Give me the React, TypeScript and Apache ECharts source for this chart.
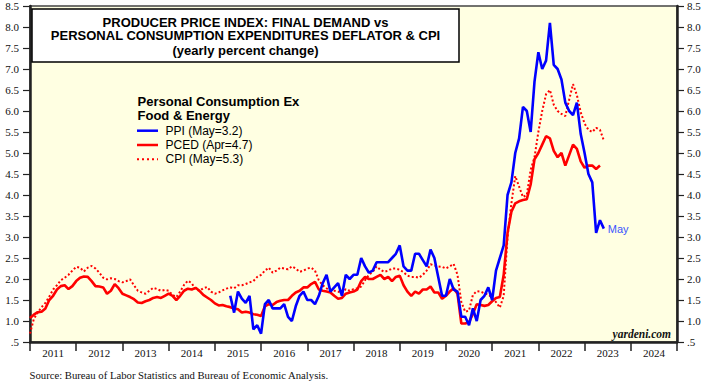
import React, { useEffect, useRef } from "react";
import * as echarts from "echarts";

// ---- Data (yearly percent change, monthly) ----
const years = ["2011", "2012", "2013", "2014", "2015", "2016", "2017", "2018", "2019", "2020", "2021", "2022", "2023", "2024"];
const yTicks = [0.5, 1.0, 1.5, 2.0, 2.5, 3.0, 3.5, 4.0, 4.5, 5.0, 5.5, 6.0, 6.5, 7.0, 7.5, 8.0, 8.5];

// PCE deflator ex food & energy, from Dec 2010
const pcedStart = "2010-12";
const pced = [
  1.07, 1.15, 1.21, 1.22, 1.3, 1.5, 1.6, 1.75, 1.83, 1.85, 1.76, 1.83,
  1.95, 2.03, 2.06, 2.05, 1.95, 1.83, 1.82, 1.8, 1.65, 1.72, 1.88, 1.78,
  1.65, 1.61, 1.57, 1.52, 1.44, 1.43, 1.47, 1.5, 1.55, 1.57, 1.55, 1.6,
  1.65, 1.6, 1.5, 1.6, 1.72, 1.77, 1.75, 1.79, 1.72, 1.62, 1.56, 1.5,
  1.42, 1.37, 1.38, 1.35, 1.33, 1.3, 1.28, 1.2, 1.22, 1.2, 1.16, 1.15,
  1.12, 1.35, 1.4, 1.38, 1.45, 1.48, 1.5, 1.5, 1.6, 1.68, 1.72, 1.8,
  1.8, 1.88, 1.93, 1.75, 1.72, 1.7, 1.68, 1.6, 1.53, 1.55, 1.65, 1.68,
  1.7, 1.75, 1.95, 2.05, 2.0, 2.0, 2.05, 2.1, 2.0, 2.05, 1.95, 2.05,
  2.08, 1.85, 1.7, 1.6, 1.7, 1.65, 1.75, 1.75, 1.82, 1.68, 1.68, 1.53,
  1.6, 1.7, 1.78, 1.65, 0.94, 0.94, 0.97, 1.17, 1.4, 1.38, 1.36, 1.38,
  1.47, 1.55, 1.57, 2.1, 3.1, 3.6, 3.8, 3.85, 3.88, 3.9, 4.25, 4.85,
  5.0, 5.2, 5.4, 5.35, 5.05, 4.9, 5.0, 4.7, 4.95, 5.2, 5.1, 4.8,
  4.65, 4.7, 4.7, 4.62, 4.7,
];

// CPI ex food & energy, from Dec 2010
const cpiStart = "2010-12";
const cpi = [
  0.7, 1.05, 1.2, 1.33, 1.43, 1.58, 1.75, 1.85, 1.97, 2.03, 2.1, 2.2,
  2.29, 2.27, 2.18, 2.27, 2.31, 2.25, 2.15, 2.03, 1.99, 2.02, 2.0, 1.95,
  1.92, 1.95, 1.99, 1.85, 1.72, 1.68, 1.65, 1.72, 1.79, 1.76, 1.72, 1.74,
  1.72, 1.62, 1.57, 1.7, 1.86, 1.96, 1.9, 1.75, 1.72, 1.78, 1.81, 1.7,
  1.65, 1.68, 1.73, 1.77, 1.8, 1.78, 1.85, 1.85, 1.88, 1.92, 1.95, 2.05,
  2.1, 2.2, 2.27, 2.15, 2.2, 2.27, 2.25, 2.23, 2.3, 2.25, 2.17, 2.2,
  2.25, 2.27, 2.2, 1.97, 1.85, 1.78, 1.72, 1.72, 1.7, 1.66, 1.76, 1.72,
  1.76, 1.78, 1.82, 1.97, 2.1, 2.17, 2.3, 2.22, 2.17, 2.2, 2.25, 2.25,
  2.22, 2.16, 2.08, 2.05, 2.05, 2.03, 2.1, 2.2, 2.35, 2.32, 2.3, 2.29,
  2.25, 2.3, 2.36, 2.1, 1.45, 1.22, 1.25, 1.62, 1.71, 1.7, 1.66, 1.63,
  1.55, 1.45, 1.32, 1.6, 3.0, 3.8, 4.45, 4.2, 3.95, 4.0, 4.6, 4.9,
  5.5, 6.0, 6.4, 6.5, 6.15, 6.0, 5.93, 5.88, 6.27, 6.64, 6.38, 5.97,
  5.7, 5.55, 5.5, 5.6, 5.55, 5.3,
];

// PPI final demand ex food & energy, from Apr 2015
const ppiStart = "2015-04";
const ppi = [
  1.6, 1.2, 1.7, 1.53, 1.43, 1.6, 0.8, 0.9, 0.7, 1.4, 1.5, 1.3,
  1.3, 1.3, 1.4, 1.1, 1.0, 1.35, 1.6, 1.7, 1.5, 1.5, 1.4, 1.6,
  1.9, 2.1, 1.7, 1.8, 1.9, 1.6, 2.1, 2.0, 2.1, 2.1, 2.5, 2.3,
  2.15, 2.2, 2.4, 2.4, 2.4, 2.4, 2.5, 2.6, 2.8, 2.3, 2.2, 2.2,
  2.6, 2.6, 2.45, 2.3, 2.7, 2.5, 2.05, 1.6, 1.6, 2.0, 1.75, 1.7,
  1.1, 1.1, 0.9, 1.3, 1.0, 1.5, 1.6, 1.8, 1.5, 2.2, 2.5, 2.8,
  4.0, 4.3, 5.0, 5.35, 6.1, 6.0, 5.5, 6.7, 7.4, 7.0, 7.2, 8.1,
  7.1, 7.0, 6.75, 6.2, 6.0, 5.9, 6.2, 5.45, 5.0, 4.5, 4.3, 3.1,
  3.4, 3.2,
];

const titleLines = [
  "PRODUCER PRICE INDEX: FINAL DEMAND vs",
  "PERSONAL CONSUMPTION EXPENDITURES DEFLATOR & CPI",
  "(yearly percent change)",
];
const legendTitle = ["Personal Consumption Ex", "Food & Energy"];
const legendItems = ["PPI (May=3.2)", "PCED (Apr=4.7)", "CPI (May=5.3)"];
const sourceText = "Source: Bureau of Labor Statistics and Bureau of Economic Analysis.";

// month-end position on a continuous year scale
function toSeries(start: string, values: number[]) {
  const [y, m] = start.split("-").map(Number);
  return values.map((v, i) => [y + (m + i) / 12, v]);
}

const SANS = "'Liberation Sans', Arial, sans-serif";
const SERIF = "'Liberation Serif', 'Times New Roman', serif";
const BLUE = "#0000ff";
const RED = "#ff0000";

export default function App() {
  const ref = useRef<HTMLDivElement>(null);

  useEffect(() => {
    if (!ref.current) return;
    const chart = echarts.init(ref.current, null, { renderer: "svg" });

    const yLabel = (v: number) => (v === 0.5 ? ".5" : v.toFixed(1));
    const yAxisCommon = {
      type: "value" as const,
      min: yTicks[0],
      max: yTicks[yTicks.length - 1],
      interval: 0.5,
      axisLine: { show: true, lineStyle: { color: "#222", width: 2.5 } },
      axisTick: { show: true, inside: false, length: 7, lineStyle: { color: "#222", width: 1.2 } },
      splitLine: { show: false },
      axisLabel: { formatter: yLabel, fontFamily: SERIF, fontSize: 11, color: "#111" },
    };

    const legendY = [130.7, 145, 159.3];
    const legendStyles = [
      { stroke: BLUE, lineWidth: 2.5, lineDash: null as any },
      { stroke: RED, lineWidth: 2.5, lineDash: null as any },
      { stroke: RED, lineWidth: 2, lineDash: [2, 3] },
    ];

    const graphics: any[] = [
      {
        type: "rect",
        z: 100,
        shape: { x: 32, y: 9, width: 427, height: 53 },
        style: { fill: "#ffffff", stroke: "#000", lineWidth: 1.5 },
      },
      ...titleLines.map((t, i) => ({
        type: "text",
        z: 101,
        x: 245.5,
        y: [22, 35.8, 50][i],
        style: {
          text: t,
          font: `bold 13px ${SANS}`,
          fill: "#000",
          align: "center",
          verticalAlign: "middle",
        },
      })),
      ...legendTitle.map((t, i) => ({
        type: "text",
        z: 101,
        x: 137.5,
        y: [101.5, 115.7][i],
        style: { text: t, font: `bold 13px ${SANS}`, fill: "#000", verticalAlign: "middle" },
      })),
      ...legendItems.map((t, i) => ({
        type: "text",
        z: 101,
        x: 165.5,
        y: legendY[i],
        style: { text: t, font: `12px ${SANS}`, fill: "#000", verticalAlign: "middle" },
      })),
      ...legendItems.map((_, i) => ({
        type: "line",
        z: 101,
        shape: { x1: 137, y1: legendY[i], x2: 158, y2: legendY[i] },
        style: legendStyles[i],
      })),
      {
        type: "text",
        z: 101,
        x: 671,
        y: 333.5,
        style: {
          text: "yardeni.com",
          font: `italic bold 11.5px ${SERIF}`,
          fill: "#111",
          align: "right",
          verticalAlign: "middle",
        },
      },
      {
        type: "text",
        z: 101,
        x: 29.5,
        y: 375,
        style: { text: sourceText, font: `10.7px ${SERIF}`, fill: "#111", verticalAlign: "middle" },
      },
    ];

    chart.setOption({
      animation: false,
      grid: {
        left: 30,
        right: 37,
        top: 6,
        bottom: 47,
        show: true,
        backgroundColor: "#ffffe2",
        borderColor: "#444",
        borderWidth: 1.5,
      },
      xAxis: [
        {
          type: "category",
          data: years,
          boundaryGap: true,
          position: "bottom",
          axisLine: { show: true, lineStyle: { color: "#222", width: 2.5 } },
          axisTick: { show: true, inside: false, length: 9, alignWithLabel: false, lineStyle: { color: "#222", width: 1.5 } },
          axisLabel: { fontFamily: SERIF, fontSize: 11, color: "#111", margin: 5, interval: 0 },
          splitLine: { show: false },
        },
        {
          type: "value",
          min: 2011,
          max: 2025,
          show: false,
          splitLine: { show: false },
        },
      ],
      yAxis: [
        { ...yAxisCommon, position: "left", axisLabel: { ...yAxisCommon.axisLabel, margin: 11 } },
        { ...yAxisCommon, position: "right", axisLabel: { ...yAxisCommon.axisLabel, margin: 10 } },
      ],
      series: [
        {
          name: "CPI",
          type: "line",
          xAxisIndex: 1,
          yAxisIndex: 0,
          data: toSeries(cpiStart, cpi),
          showSymbol: false,
          lineStyle: { color: RED, width: 2, type: [2, 2.2], cap: "butt" },
          z: 2,
        },
        {
          name: "PCED",
          type: "line",
          xAxisIndex: 1,
          yAxisIndex: 0,
          data: toSeries(pcedStart, pced),
          showSymbol: false,
          lineStyle: { color: RED, width: 2.6 },
          z: 3,
        },
        {
          name: "PPI",
          type: "line",
          xAxisIndex: 1,
          yAxisIndex: 0,
          data: toSeries(ppiStart, ppi),
          showSymbol: false,
          lineStyle: { color: BLUE, width: 2.6 },
          endLabel: {
            show: true,
            formatter: "May",
            color: "#3a55ff",
            fontFamily: SANS,
            fontSize: 11,
            distance: 4,
          },
          z: 4,
        },
      ],
      graphic: graphics,
    });

    return () => chart.dispose();
  }, []);

  return (
    <div
      ref={ref}
      style={{ position: "absolute", left: 0, top: 0, width: 714, height: 389, background: "#fff" }}
    />
  );
}
